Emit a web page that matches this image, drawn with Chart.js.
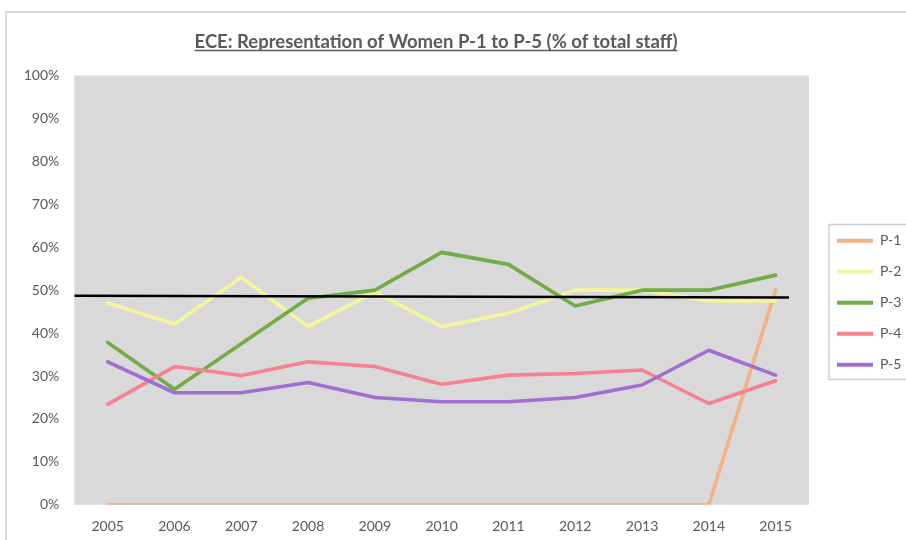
<!DOCTYPE html>
<html>
<head>
<meta charset="utf-8">
<script src="https://cdn.jsdelivr.net/npm/chart.js@4/dist/chart.umd.min.js"></script>
<style>
  html, body { margin: 0; padding: 0; background: #ffffff; }
  #wrap { position: relative; width: 906px; height: 540px; overflow: hidden; }
  #frame { position: absolute; left: 5px; top: 11px; width: 1000px; height: 1000px;
           border-left: 2px solid #d9d9d9; border-top: 2px solid #d9d9d9; pointer-events: none; }
  canvas { position: absolute; left: 0; top: 0; }
</style>
</head>
<body>
<div id="wrap">
  <canvas id="c" width="906" height="540"></canvas>
  <div id="frame"></div>
</div>
<script>
// ---- Data ----
const years = ['2005','2006','2007','2008','2009','2010','2011','2012','2013','2014','2015'];
const p1 = [0, 0, 0, 0, 0, 0, 0, 0, 0, 0, 50];
const p2 = [47.0, 42.1, 53.0, 41.5, 49.6, 41.5, 44.6, 50.0, 50.0, 47.5, 47.5];
const p3 = [37.8, 26.9, 37.5, 48.1, 50.0, 58.8, 56.0, 46.3, 50.0, 50.0, 53.5];
const p4 = [23.4, 32.2, 30.1, 33.3, 32.2, 28.1, 30.2, 30.6, 31.4, 23.6, 28.9];
const p5 = [33.3, 26.1, 26.1, 28.5, 25.0, 24.0, 24.0, 25.0, 27.9, 36.0, 30.2];
const seriesNames = ['P-1', 'P-2', 'P-3', 'P-4', 'P-5'];
// reference (average) line: category-index position and value at each end
const refLineX = [-0.5, 10.2];
const refLineY = [48.7, 48.3];
const yTicks = [0, 10, 20, 30, 40, 50, 60, 70, 80, 90, 100];
const titleText = 'ECE: Representation of Women P-1 to P-5 (% of total staff)';

// ---- Styles ----
const colors = ['#F4B183', '#F3F59B', '#70AD47', '#F7818F', '#A06ECF'];
const textColor = '#595959';
const FONT = 'Lato, "Open Sans", "DejaVu Sans", sans-serif';

const seriesData = [p1, p2, p3, p4, p5];
const datasets = seriesData.map((d, i) => ({
  label: seriesNames[i],
  data: d,
  borderColor: colors[i],
  backgroundColor: colors[i],
  borderWidth: 3.6,
  pointRadius: 0,
  pointHoverRadius: 0,
  tension: 0,
  fill: false,
  borderJoinStyle: 'round',
  borderCapStyle: 'round',
  order: 10 - i
}));
datasets.push({
  label: '',
  data: refLineX.map((x, i) => ({ x: x, y: refLineY[i] })),
  xAxisID: 'xRef',
  borderColor: '#000000',
  backgroundColor: '#000000',
  borderWidth: 2.6,
  pointRadius: 0,
  pointHoverRadius: 0,
  fill: false,
  order: 0
});

const LEGEND_SHIFT_X = 11;
const LEGEND_SHIFT_Y = 35;
const TITLE_RIGHT_TRIM = 34;

const layoutPlugin = {
  id: 'layoutTweaks',
  beforeLayout(chart) {
    const lg = chart.legend;
    if (lg && !lg._patched) {
      const f = lg.fit;
      lg.fit = function () { f.call(this); this.width = 97; };
      lg._patched = true;
    }
  },
  afterLayout(chart) {
    const lg = chart.legend;
    if (lg) {
      lg.left += LEGEND_SHIFT_X; lg.right += LEGEND_SHIFT_X;
      lg.top += LEGEND_SHIFT_Y; lg.bottom += LEGEND_SHIFT_Y;
    }
    const tb = chart.titleBlock;
    if (tb) { tb.right -= TITLE_RIGHT_TRIM; tb.width = tb.right - tb.left; }
  },
  beforeDatasetsDraw(chart) {
    const { ctx, chartArea: a } = chart;
    ctx.save();
    ctx.fillStyle = '#d9d9d9';
    ctx.fillRect(a.left, a.top, a.right - a.left, a.bottom - a.top);
    ctx.restore();
  },
  afterDraw(chart) {
    const { ctx, chartArea: a } = chart;
    // legend frame
    ctx.save();
    ctx.strokeStyle = '#cfcfcf';
    ctx.lineWidth = 1.5;
    ctx.strokeRect(a.right + 20, a.top + 149, 200, 155);
    ctx.restore();
    // title underline
    const tb = chart.titleBlock;
    if (tb) {
      const font = Chart.helpers.toFont(tb.options.font);
      ctx.save();
      ctx.font = font.string;
      const w = ctx.measureText(titleText).width;
      const cx = (tb.left + tb.right) / 2;
      const y = tb.top + tb.options.padding.top + font.lineHeight / 2 + 8.5;
      ctx.strokeStyle = textColor;
      ctx.lineWidth = 1.5;
      ctx.beginPath();
      ctx.moveTo(cx - w / 2, y);
      ctx.lineTo(cx + w / 2, y);
      ctx.stroke();
      ctx.restore();
    }
  }
};

new Chart(document.getElementById('c'), {
  type: 'line',
  data: { labels: years, datasets: datasets },
  options: {
    responsive: false,
    animation: false,
    devicePixelRatio: 1,
    layout: { padding: { left: 0, right: 0, top: 0, bottom: 4.7 } },
    scales: {
      x: {
        type: 'category',
        offset: true,
        grid: { display: false, drawTicks: false },
        border: { display: false },
        afterFit(scale) { scale.height = 30.5; },
        ticks: { color: textColor, font: { family: FONT, size: 14 }, padding: 13, maxRotation: 0 }
      },
      xRef: {
        type: 'linear',
        display: false,
        min: -0.5,
        max: 10.5
      },
      y: {
        min: 0,
        max: 100,
        afterBuildTicks(scale) { scale.ticks = yTicks.map(v => ({ value: v })); },
        afterFit(scale) { scale.width = 74.3; },
        grid: { display: false, drawTicks: false },
        border: { display: false },
        ticks: { color: textColor, font: { family: FONT, size: 14 }, padding: 15,
                 callback: v => v + '%' }
      }
    },
    plugins: {
      tooltip: { enabled: false },
      title: {
        display: true,
        text: titleText,
        color: textColor,
        font: { family: FONT, size: 18.5, weight: 'bold' },
        padding: { top: 30.9, bottom: 22.4 }
      },
      legend: {
        display: true,
        position: 'right',
        align: 'center',
        labels: {
          boxWidth: 36,
          boxHeight: 4,
          padding: 17,
          color: textColor,
          font: { family: FONT, size: 14 },
          filter: item => item.text !== '',
          sort: (a, b) => a.datasetIndex - b.datasetIndex,
          generateLabels(chart) {
            const items = Chart.defaults.plugins.legend.labels.generateLabels(chart);
            return items.map(it => Object.assign(it, { lineWidth: 0, fillStyle: it.strokeStyle }));
          }
        }
      }
    }
  },
  plugins: [layoutPlugin]
});
</script>
</body>
</html>
